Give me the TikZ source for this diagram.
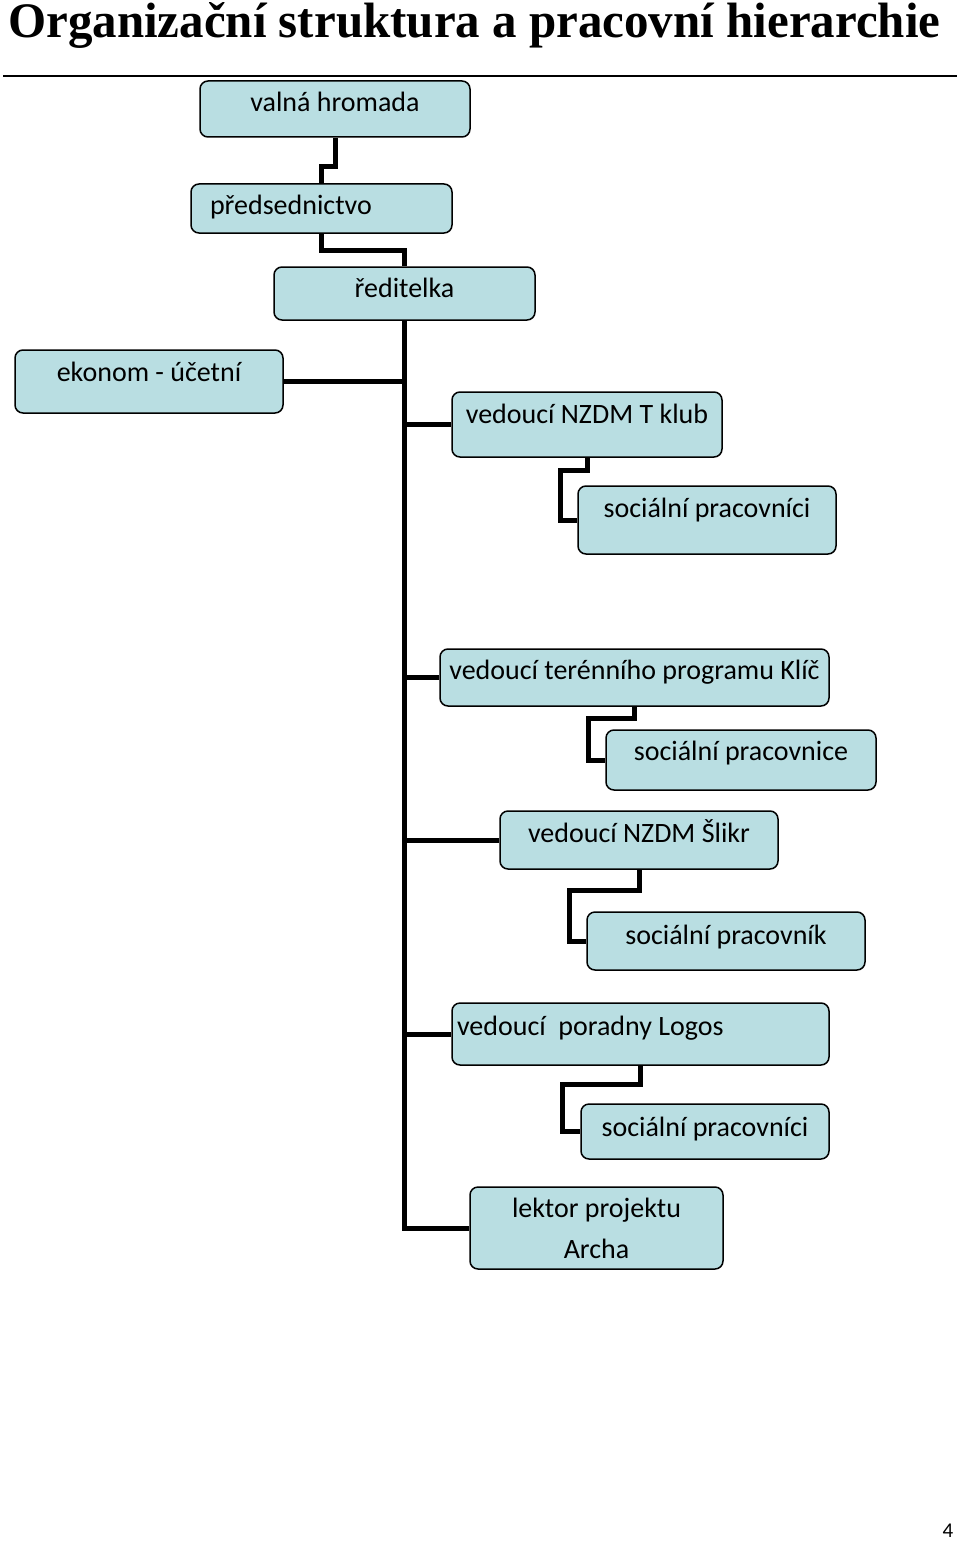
\documentclass[tikz,border=0pt]{standalone}
\usepackage{graphicx}
\usepackage{fontspec}
\setmainfont{Carlito}
\newfontfamily\titlefont{Liberation Serif}
\usepackage{tikz}
\definecolor{boxfill}{RGB}{185,222,226}
\tikzstyle{org}=[draw, fill=boxfill, rounded corners=8pt, line width=1.5pt, inner xsep=4pt, inner ysep=2pt, font=\fontsize{28}{41}\selectfont]
\tikzstyle{org1}=[org, text height=16pt, text depth=12pt]
\tikzstyle{link}=[line width=5pt]

\begin{document}
\begin{tikzpicture}[x=1pt,y=-1pt]
\useasboundingbox (0,0) rectangle (960,1541);

\node[anchor=base west, inner sep=0pt] (title) at (8,38) {\resizebox{932pt}{35pt}{\titlefont\bfseries Organizační struktura a pracovní hierarchie}};
\draw[line width=1.5pt] (3,76) -- (957,76);

% vedeni
\node[org1, text height=17pt, text depth=11pt, minimum width=270pt, minimum height=56pt] (valna) at (335,109) {valná hromada};
\node[org1, text height=20pt, text depth=8pt, inner xsep=19pt, text width=223pt, align=flush left, minimum height=49pt] (preds) at (321.5,208.5) {předsednictvo};
\node[org1, text height=18pt, text depth=10pt, minimum width=261pt, minimum height=53pt] (redit) at (404.5,293.5) {ředitelka};
\node[org1, text height=14pt, text depth=14pt, minimum width=268pt, minimum height=63pt] (ekonom) at (149,381.5) {ekonom - účetní};

\draw[link] (valna.south) -- ++(0,29) -| (preds.north);
\draw[link] (preds.south) -- ++(0,17) -| (redit.north);

% T klub
\node[org1, text height=13pt, text depth=15pt, minimum width=270pt, minimum height=65pt] (tklub) at (587,424.5) {vedoucí NZDM T klub};
\node[org1, text height=11pt, text depth=17pt, minimum width=258pt, minimum height=68pt] (socA) at (707,520) {sociální pracovníci};

% Klic
\node[org1, minimum width=389pt, minimum height=57pt] (klic) at (634.5,677.5) {vedoucí terénního programu Klíč};
\node[org1, text height=14pt, text depth=14pt, minimum width=270pt, minimum height=60pt] (socB) at (741,760) {sociální pracovnice};

% Slikr
\node[org1, minimum width=278pt, minimum height=58pt] (slikr) at (639,840) {vedoucí NZDM Šlikr};
\node[org1, text height=17pt, text depth=11pt, minimum width=278pt, minimum height=58pt] (socC) at (726,941) {sociální pracovník};

% Logos
\node[org1, text height=15pt, text depth=13pt, inner xsep=5pt, text width=367pt, align=flush left, minimum height=62pt] (logos) at (640.5,1034) {vedoucí~~poradny Logos};
\node[org1, text height=19pt, text depth=9pt, minimum width=248pt, minimum height=55pt] (socD) at (705,1131.5) {sociální pracovníci};

% Archa
\node[org, align=center, minimum width=253pt, minimum height=82pt] (lektor) at (596.5,1228) {lektor projektu\\Archa};

\draw[link] (redit.south) |- (lektor.west);
\draw[link] (ekonom.east) -- (ekonom.east -| redit.south);
\draw[link] (redit.south |- tklub.west) -- (tklub.west);
\draw[link] (redit.south |- klic.west) -- (klic.west);
\draw[link] (redit.south |- slikr.west) -- (slikr.west);
\draw[link] (redit.south |- logos.west) -- (logos.west);

\draw[link] (tklub.south) -- ++(0,13) -| ([xshift=-17pt]socA.west) -- (socA.west);
\draw[link] (klic.south) -- ++(0,12) -| ([xshift=-17pt]socB.west) -- (socB.west);
\draw[link] (slikr.south) -- ++(0,21) -| ([xshift=-17pt]socC.west) -- (socC.west);
\draw[link] (logos.south) -- ++(0,19) -| ([xshift=-18pt]socD.west) -- (socD.west);

\node (pagenum) at (948,1531) {\fontsize{21}{25}\selectfont 4};
\end{tikzpicture}
\end{document}
